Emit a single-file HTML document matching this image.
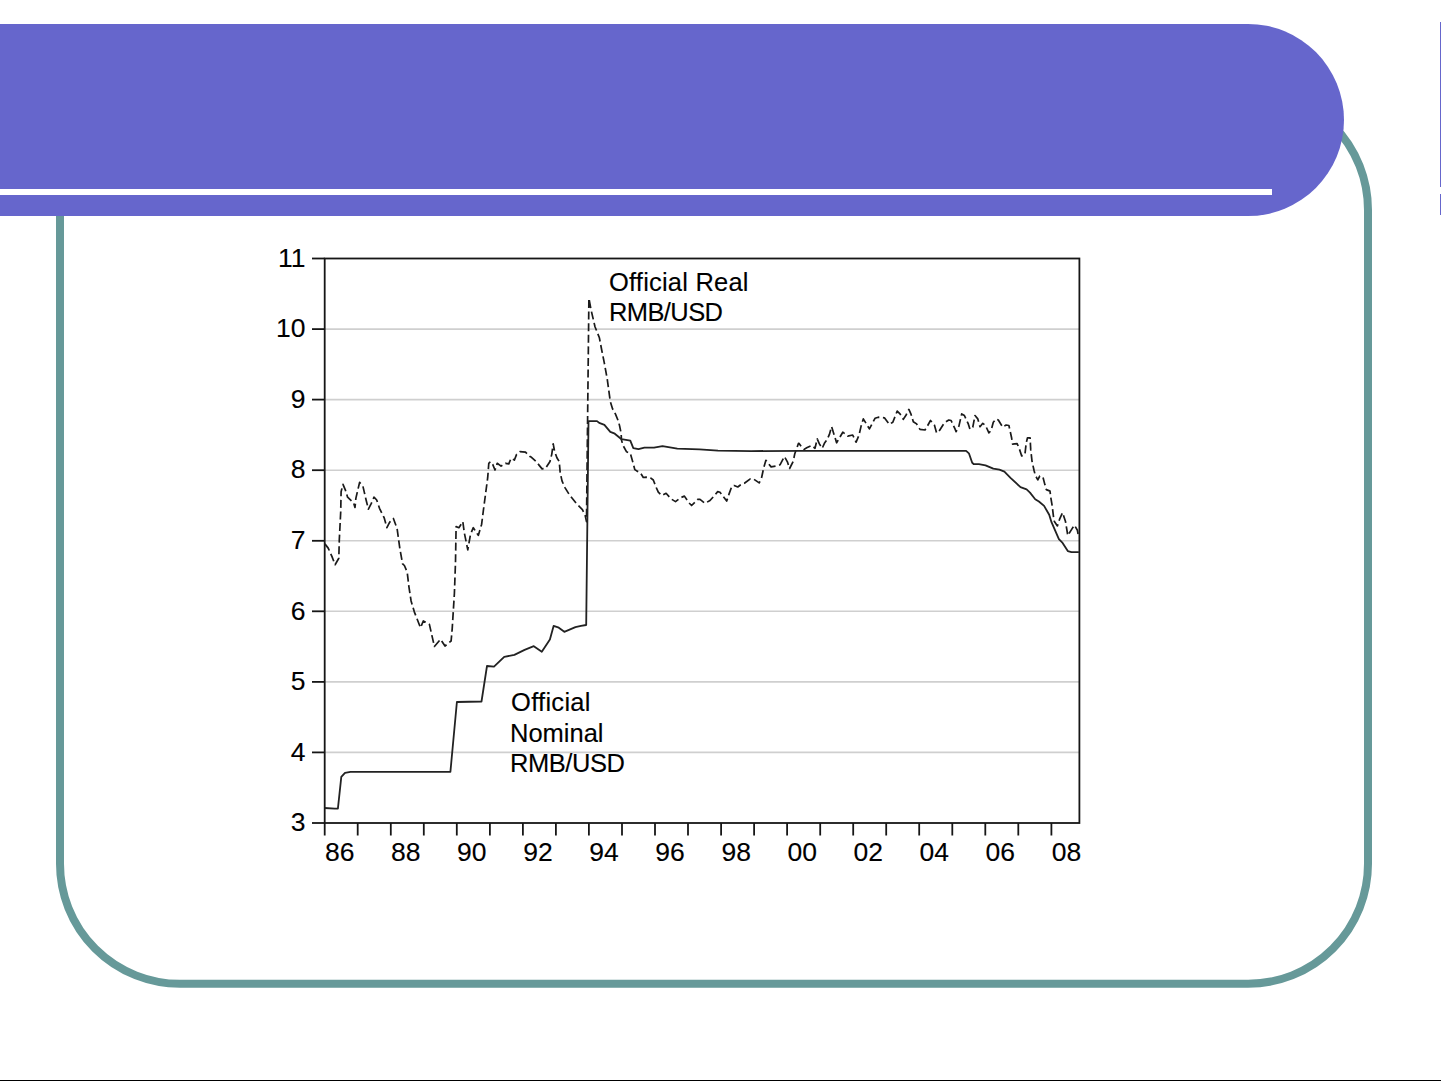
<!DOCTYPE html>
<html><head><meta charset="utf-8">
<style>
html,body{margin:0;padding:0;background:#fff;}
body{width:1441px;height:1081px;overflow:hidden;position:relative;}
svg{position:absolute;left:0;top:0;}
.g{stroke:#cfcfcf;stroke-width:1.6;}
.a{stroke:#161616;stroke-width:1.8;}
.d{font-size:26.5px !important;}
.t{font-family:"Liberation Sans",sans-serif;font-size:25.5px;fill:#000;stroke:#000;stroke-width:0.12px;}
</style></head>
<body>
<svg width="1441" height="1081" viewBox="0 0 1441 1081">
<rect x="60" y="90" width="1308" height="893.8" rx="120" ry="120" fill="none" stroke="#669999" stroke-width="8"/>
<path d="M0,24 H1248 A96,96 0 0 1 1248,216 H0 Z" fill="#6666cc"/>
<rect x="0" y="189" width="1272" height="6" fill="#fff"/>
<rect x="1440" y="22" width="1" height="165" fill="#6666cc"/>
<rect x="1440" y="194" width="1" height="21" fill="#6666cc"/>
<rect x="0" y="1080" width="1441" height="1" fill="#000"/>
<line x1="324.7" y1="752.4" x2="1079.4" y2="752.4" class="g"/>
<line x1="324.7" y1="681.9" x2="1079.4" y2="681.9" class="g"/>
<line x1="324.7" y1="611.3" x2="1079.4" y2="611.3" class="g"/>
<line x1="324.7" y1="540.8" x2="1079.4" y2="540.8" class="g"/>
<line x1="324.7" y1="470.2" x2="1079.4" y2="470.2" class="g"/>
<line x1="324.7" y1="399.6" x2="1079.4" y2="399.6" class="g"/>
<line x1="324.7" y1="329.1" x2="1079.4" y2="329.1" class="g"/>
<line x1="312" y1="823.0" x2="324.7" y2="823.0" class="a"/>
<text x="305.5" y="831.2" text-anchor="end" class="t d">3</text>
<line x1="312" y1="752.4" x2="324.7" y2="752.4" class="a"/>
<text x="305.5" y="760.6" text-anchor="end" class="t d">4</text>
<line x1="312" y1="681.9" x2="324.7" y2="681.9" class="a"/>
<text x="305.5" y="690.1" text-anchor="end" class="t d">5</text>
<line x1="312" y1="611.3" x2="324.7" y2="611.3" class="a"/>
<text x="305.5" y="619.5" text-anchor="end" class="t d">6</text>
<line x1="312" y1="540.8" x2="324.7" y2="540.8" class="a"/>
<text x="305.5" y="549.0" text-anchor="end" class="t d">7</text>
<line x1="312" y1="470.2" x2="324.7" y2="470.2" class="a"/>
<text x="305.5" y="478.4" text-anchor="end" class="t d">8</text>
<line x1="312" y1="399.6" x2="324.7" y2="399.6" class="a"/>
<text x="305.5" y="407.8" text-anchor="end" class="t d">9</text>
<line x1="312" y1="329.1" x2="324.7" y2="329.1" class="a"/>
<text x="305.5" y="337.3" text-anchor="end" class="t d">10</text>
<line x1="312" y1="258.5" x2="324.7" y2="258.5" class="a"/>
<text x="305.5" y="266.7" text-anchor="end" class="t d">11</text>
<line x1="324.7" y1="823.0" x2="324.7" y2="835.5" class="a"/>
<line x1="357.7" y1="823.0" x2="357.7" y2="835.5" class="a"/>
<line x1="390.8" y1="823.0" x2="390.8" y2="835.5" class="a"/>
<line x1="423.8" y1="823.0" x2="423.8" y2="835.5" class="a"/>
<line x1="456.8" y1="823.0" x2="456.8" y2="835.5" class="a"/>
<line x1="489.9" y1="823.0" x2="489.9" y2="835.5" class="a"/>
<line x1="522.9" y1="823.0" x2="522.9" y2="835.5" class="a"/>
<line x1="555.9" y1="823.0" x2="555.9" y2="835.5" class="a"/>
<line x1="588.9" y1="823.0" x2="588.9" y2="835.5" class="a"/>
<line x1="622.0" y1="823.0" x2="622.0" y2="835.5" class="a"/>
<line x1="655.0" y1="823.0" x2="655.0" y2="835.5" class="a"/>
<line x1="688.0" y1="823.0" x2="688.0" y2="835.5" class="a"/>
<line x1="721.1" y1="823.0" x2="721.1" y2="835.5" class="a"/>
<line x1="754.1" y1="823.0" x2="754.1" y2="835.5" class="a"/>
<line x1="787.1" y1="823.0" x2="787.1" y2="835.5" class="a"/>
<line x1="820.2" y1="823.0" x2="820.2" y2="835.5" class="a"/>
<line x1="853.2" y1="823.0" x2="853.2" y2="835.5" class="a"/>
<line x1="886.2" y1="823.0" x2="886.2" y2="835.5" class="a"/>
<line x1="919.2" y1="823.0" x2="919.2" y2="835.5" class="a"/>
<line x1="952.3" y1="823.0" x2="952.3" y2="835.5" class="a"/>
<line x1="985.3" y1="823.0" x2="985.3" y2="835.5" class="a"/>
<line x1="1018.3" y1="823.0" x2="1018.3" y2="835.5" class="a"/>
<line x1="1051.4" y1="823.0" x2="1051.4" y2="835.5" class="a"/>
<text x="325.0" y="861.2" class="t d">86</text>
<text x="391.1" y="861.2" class="t d">88</text>
<text x="457.1" y="861.2" class="t d">90</text>
<text x="523.2" y="861.2" class="t d">92</text>
<text x="589.2" y="861.2" class="t d">94</text>
<text x="655.3" y="861.2" class="t d">96</text>
<text x="721.4" y="861.2" class="t d">98</text>
<text x="787.4" y="861.2" class="t d">00</text>
<text x="853.5" y="861.2" class="t d">02</text>
<text x="919.5" y="861.2" class="t d">04</text>
<text x="985.6" y="861.2" class="t d">06</text>
<text x="1051.7" y="861.2" class="t d">08</text>
<rect x="324.7" y="258.5" width="754.7" height="564.5" fill="none" stroke="#161616" stroke-width="1.8"/>
<polyline points="324.9,543.9 328.2,548.1 331.9,556.4 335.1,564.7 338.8,558.3 339.3,539.8 340.7,512 341.1,491.7 343,484.3 345.3,489.8 347.6,497.2 353.6,502.8 355,507.4 355.9,498.1 359.6,482.4 362.9,486.1 366.1,500 368.4,509.2 371.2,503.7 374,497.2 376.7,500 379.5,508.3 384.1,517.6 386.9,527.7 389.7,522.2 393.4,518.5 397.1,528.7 399.9,549 402.6,563.8 404.4,565.5 407.2,572.2 408.9,586.6 411.1,601 414.4,612.1 420.5,627.7 423.3,621 429.4,624.4 434.4,646.5 440.5,639.3 445,646 451.1,641 452.2,628.8 454.4,593.3 455.5,562.2 456.1,526.6 458.9,527.7 462.8,521.6 464.4,533.2 467.8,549.9 470.5,534.3 473.3,527.7 478.3,535.4 481.6,524.4 483.3,511 487.7,477.7 488.8,463.3 490.5,461.6 492.7,464.4 495,470 497.2,463.3 501.1,466.1 505.5,463.3 508.8,463.9 511,458.3 514.4,460 516.6,454.4 519.9,451.7 525.5,452.2 530,456.6 531.5,457.3 536.1,461.5 542.1,468.9 545.4,468.4 550,461.5 551.8,454.1 553.2,443.9 554.6,451.3 556.9,457.8 559.2,461.5 560.2,472.6 562,480.9 564.8,487.4 569.4,494.8 576.8,504 582.4,509.6 585.1,515.1 586.5,521.6 588.9,298.3 591.1,310 595,326.7 599.4,337.8 601.7,350 604.4,363.3 607.2,378.9 610.3,401.5 610.3,401.5 612.6,408.9 615.5,414.1 618.5,421.5 619.6,425.9 621.1,433.3 621.5,440 622.9,445.2 626.6,451.8 630.3,453.3 633.3,463.7 634.8,469.6 640.7,473.3 643.3,477.5 646.1,477.2 650.5,477.8 653.3,480 656.1,487.2 658.3,492.2 661.7,495.5 666.1,493.3 671.1,498.9 675.5,501.6 680.5,497.8 684.4,496.1 688.9,502.8 691.6,505.5 697.7,499.4 700,499.4 705,503.3 710,500.5 715,495 717.7,491.6 720,492.2 722.2,495.1 726.7,501.1 728.9,494.4 731.8,486.3 734.1,485.5 737.8,487 740.7,484.8 744.4,483.3 750.3,478.9 753.3,478.9 759.2,482.9 761.5,478.1 763.7,467.8 765.9,460.3 771.1,466.9 776.3,465.9 780,464.8 784.4,456.6 787.4,461.8 789.6,468.5 793.3,461.1 794.8,453.7 798.5,443.3 798.9,443.3 801.7,447.2 804.2,449.4 806.7,447.8 811.7,445.5 815,448.3 817.2,438.9 819.4,443.9 822.2,448.3 824.4,443.3 827.2,439.4 829.4,434.4 831.6,426.7 832.8,430.5 836.6,442.8 838.9,438.9 842.8,432.2 847.7,436.1 852.7,435 856.1,442.2 858.9,435.5 861.1,426.1 863.3,418.9 869.4,428.9 875,418.3 878.3,417.2 884.4,417.8 889.4,424.4 892.8,422.2 897.2,411.1 900,413.9 903.3,419.4 906.1,415 908.9,409.4 911.1,414.4 913.3,421.7 916.6,423.9 920,429.4 925,430 927.7,425.5 930.5,420.5 934.4,425 936.6,432.8 938.8,431.6 944.4,422.8 948.8,420 951.1,420.5 955,428.9 956.1,431.6 958.9,426.1 961.7,413.9 964.4,415.5 968.3,423.9 970,429.4 972.8,427.2 975,415.5 977.8,418.9 980,426.7 982.8,423.3 985.5,425.5 988.9,432.8 991.1,430.5 993.3,422.2 996.1,418.9 998.3,420 1002.7,427.2 1006.1,425 1008.9,425.5 1011.6,437.8 1012.6,444.2 1017.1,443.6 1019.1,448.1 1021.7,455.9 1024.9,454.6 1026.2,443 1027.5,437.8 1030.1,437.8 1030.7,449.4 1032,461.1 1034,470.2 1035.3,475.3 1037.8,479.9 1039.8,476 1043,477.3 1045,485.1 1046.3,489.6 1049.5,490.9 1050,491.1 1050.7,497 1052.2,505.9 1053.7,518.5 1054.4,521.5 1057.4,525.9 1059.6,519.2 1062.6,512.6 1065.5,521.5 1067.8,535.5 1071.5,529.6 1074.4,525.2 1077.4,530.3 1078.5,536.3" fill="none" stroke="#1a1a1a" stroke-width="1.7" stroke-dasharray="8,3.6" stroke-linejoin="round"/>
<polyline points="324.6,808 334.8,808.7 337.9,808.7 341.3,776.9 345,772.8 350.5,771.9 450.4,771.9 456.9,702 481.5,701.5 487,666 494,666.6 504.2,656.8 514.4,654.9 524.6,649.9 533.8,646.2 541.8,651.8 549.9,639.6 553.6,625.9 558.8,627.7 564.3,631.8 575.4,627.2 581,625.9 586.2,625 588.5,421.1 597,421.1 599.2,422.9 604.4,424.8 610.3,431.8 614.8,433.7 621.5,439.2 630.3,440.7 633.3,448.1 638.5,449.2 644.4,447.7 654,447.7 662.5,446.1 677.3,448.7 699.5,449.3 718,450.6 751,451.1 800,450.8 966.1,450.8 968.9,453.3 972.2,462.8 973.9,464.2 978.9,464.2 985.5,465.3 993.3,468.6 999.4,469.7 1004.4,471.6 1010.5,477.8 1020.5,487.2 1026.6,489.4 1030,492.6 1035.2,499.2 1038.9,501.5 1044.1,505.9 1049.2,514.8 1051.5,522.2 1058.9,539.2 1062.6,542.9 1067.8,551.1 1071.5,552.2 1078.9,552.2" fill="none" stroke="#222222" stroke-width="1.8" stroke-linejoin="round"/>
<text x="609" y="290.8" class="t" textLength="139.5" lengthAdjust="spacing">Official Real</text>
<text x="609" y="320.8" class="t" textLength="114" lengthAdjust="spacing">RMB/USD</text>
<text x="511" y="710.6" class="t" textLength="79.5" lengthAdjust="spacing">Official</text>
<text x="510" y="741.6" class="t">Nominal</text>
<text x="510" y="772" class="t" textLength="115" lengthAdjust="spacing">RMB/USD</text>
</svg>
</body></html>
